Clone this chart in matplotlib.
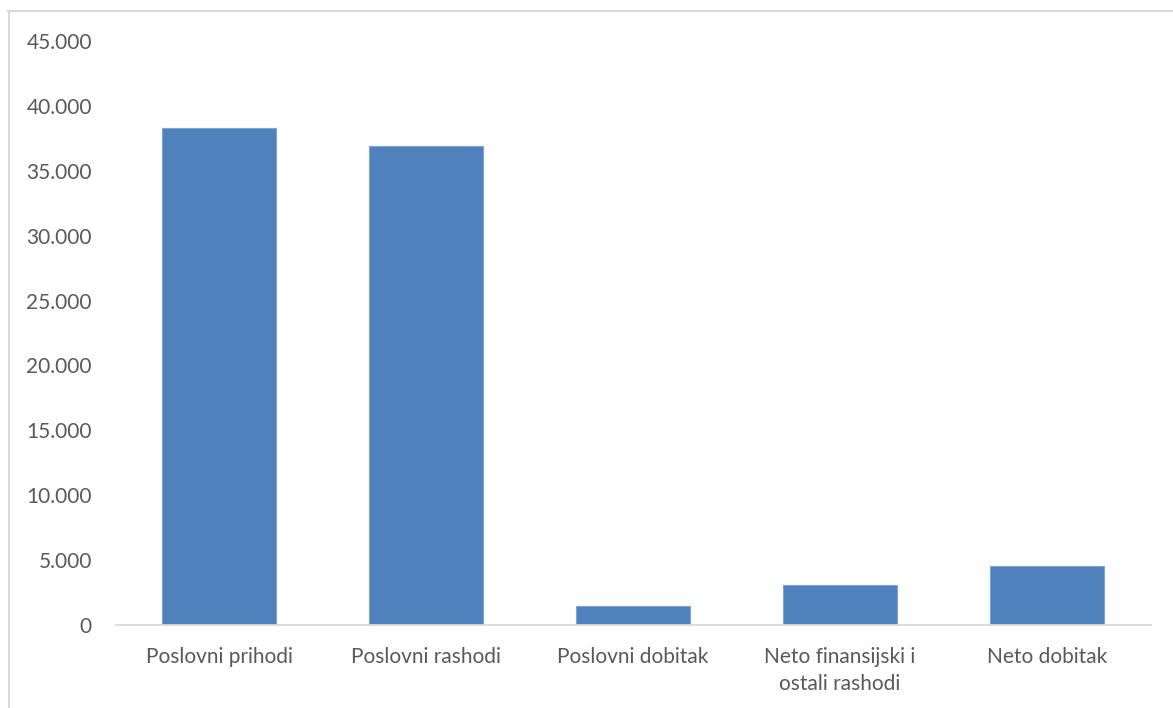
import matplotlib.pyplot as plt
from matplotlib.lines import Line2D
from matplotlib.ticker import FuncFormatter, MultipleLocator

categories = ['Poslovni prihodi', 'Poslovni rashodi', 'Poslovni dobitak',
              'Neto finansijski i\nostali rashodi', 'Neto dobitak']
values = [38300, 36900, 1500, 3050, 4550]

W, H = 1173, 708
plt.rcParams['font.family'] = ['Lato', 'DejaVu Sans']

fig = plt.figure(figsize=(W / 100, H / 100), dpi=100)
ax = fig.add_axes([115.5 / W, 83 / H, 1035 / W, 584 / H])

ax.bar(range(len(values)), values, width=0.555, color='#4F81BD',
       edgecolor='#7FA3D1', linewidth=0.8, zorder=2)

ax.set_xlim(-0.5, len(values) - 0.5)
ax.set_ylim(0, 45000)
ax.yaxis.set_major_locator(MultipleLocator(5000))
ax.yaxis.set_major_formatter(FuncFormatter(lambda v, p: f'{int(v):,}'.replace(',', '.')))
ax.set_xticks(range(len(values)))
ax.set_xticklabels(categories, linespacing=1.45)

for s in ['top', 'right', 'left']:
    ax.spines[s].set_visible(False)
ax.spines['bottom'].set_color('#D9D9D9')
ax.spines['bottom'].set_linewidth(1.3)

ax.tick_params(axis='both', length=0, colors='#595959', labelsize=15)
ax.tick_params(axis='y', pad=17)
ax.tick_params(axis='x', pad=16)

# outer chart frame
fig.add_artist(Line2D([8 / W, 1], [1 - 10.5 / H, 1 - 10.5 / H],
                      transform=fig.transFigure, color='#D9D9D9', lw=1.5))
fig.add_artist(Line2D([8.5 / W, 8.5 / W], [0, 1 - 10.5 / H],
                      transform=fig.transFigure, color='#D9D9D9', lw=1.5))

fig.savefig('out.png', dpi=100)
